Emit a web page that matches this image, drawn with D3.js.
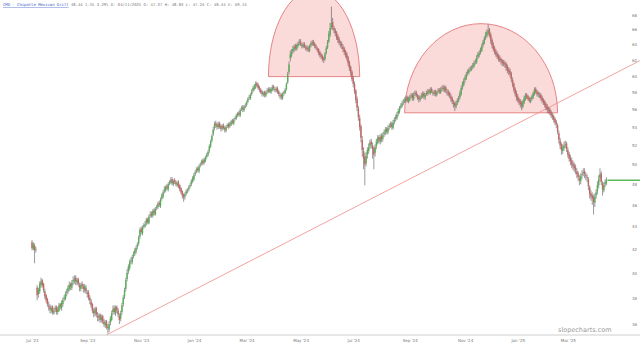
<!DOCTYPE html>
<html>
<head>
<meta charset="utf-8">
<script src="https://cdn.jsdelivr.net/npm/d3@7"></script>
<style>
  body { margin: 0; background: #fff; }
  svg { display: block; }
</style>
</head>
<body>
<svg></svg>
<script>
// daily candles, one per trading day (index 0 = first bar on the chart)
const open = [
  42.6, 42.0, 42.3, 42.0,
  38.8, 38.3, 38.5, 39.0, 39.4, 39.1, 38.5, 38.2, 37.9, 37.4,
  37.3, 37.0, 37.3, 36.8, 37.1, 37.3, 36.9, 37.0, 37.5, 37.2,
  37.5, 37.9, 37.9, 38.4, 38.5, 38.7, 39.1, 38.8, 39.3, 39.3,
  39.6, 39.2, 39.5, 39.0, 38.7, 39.1, 38.9, 38.6, 38.8, 38.4,
  38.4, 38.0, 37.7, 37.5, 37.0, 36.8, 37.2, 36.6, 36.5, 36.7,
  36.3, 36.6, 36.2, 35.9, 36.2, 35.8, 35.6, 36.1, 36.3, 36.9,
  37.2, 36.8, 37.3, 37.0, 36.6, 36.4, 36.9, 37.5, 38.1, 38.7,
  39.5, 40.1, 40.4, 41.0, 40.9, 41.4, 41.6, 41.8, 42.2, 42.5,
  43.1, 43.8, 43.4, 44.0, 44.0, 44.3, 44.7, 44.3, 45.0, 45.2,
  45.0, 45.5, 45.1, 45.7, 45.8, 46.2, 45.9, 46.6, 46.8, 47.3,
  47.4, 47.8, 47.5, 48.1, 48.2, 48.5, 48.0, 48.4, 48.2, 47.9,
  48.2, 47.9, 47.6, 47.3, 47.0, 46.8, 47.1, 47.4, 47.5, 47.8,
  48.0, 48.3, 48.5, 49.0, 49.3, 49.6, 49.3, 49.9, 50.1, 50.4,
  50.2, 50.4, 50.8, 51.0, 51.4, 51.9, 52.5, 53.2, 53.9, 54.4,
  54.3, 54.0, 54.4, 54.1, 53.8, 54.2, 53.9, 53.6, 54.1, 54.3,
  54.1, 54.3, 54.7, 54.4, 54.9, 55.0, 55.3, 55.6, 55.3, 56.0,
  56.2, 55.9, 56.3, 56.5, 56.9, 57.3, 57.3, 57.8, 58.2, 58.4,
  58.6, 59.1, 58.9, 58.6, 58.3, 58.1, 57.7, 58.0, 57.6, 58.1,
  58.1, 58.4, 58.0, 58.3, 58.7, 58.4, 58.2, 58.5, 58.1, 57.7,
  57.7, 57.3, 57.9, 57.9, 58.4, 59.2, 60.5, 62.2, 62.6, 63.1,
  63.3, 63.8, 63.4, 63.8, 64.2, 64.4, 63.9, 63.7, 64.1, 63.6,
  63.6, 63.5, 63.2, 63.9, 64.0, 64.4, 64.1, 63.8, 63.5, 63.4,
  63.0, 62.7, 62.5, 62.2, 62.1, 62.9, 63.6, 64.4, 65.3, 66.3,
  67.0, 66.2, 65.9, 65.6, 65.1, 64.7, 64.1, 64.1, 63.7, 63.5,
  63.1, 62.8, 62.3, 61.7, 61.1, 60.5, 59.7, 59.0, 58.2, 57.2,
  56.1, 55.0, 54.1, 52.6, 51.4, 50.8, 50.1, 51.0, 51.4, 51.9,
  52.4, 52.0, 51.7, 51.2, 51.9, 52.3, 52.9, 52.4, 53.0, 52.7,
  53.2, 53.4, 53.8, 53.4, 54.0, 54.1, 54.4, 53.9, 54.6, 54.9,
  55.0, 55.5, 55.7, 56.2, 56.4, 56.8, 56.9, 57.0, 57.4, 56.9,
  57.1, 57.5, 57.7, 57.2, 57.8, 58.0, 57.5, 57.5, 57.1, 57.4,
  57.5, 57.9, 57.4, 57.8, 57.8, 58.2, 57.9, 58.4, 58.0, 57.8,
  58.1, 57.7, 58.1, 58.3, 58.0, 58.4, 58.6, 58.3, 58.6, 58.1,
  58.0, 57.9, 57.5, 57.3, 56.8, 56.7, 56.3, 56.8, 57.0, 57.4,
  57.8, 58.6, 58.9, 59.5, 59.7, 60.3, 60.4, 60.8, 60.8, 61.1,
  61.2, 61.7, 61.7, 62.4, 62.6, 63.0, 63.2, 63.9, 64.2, 64.9,
  65.2, 65.5, 66.0, 65.3, 64.6, 64.0, 63.5, 63.1, 62.8, 62.5,
  62.3, 62.1, 61.9, 61.7, 61.6, 61.5, 61.1, 60.8, 60.6, 60.3,
  59.5, 59.0, 58.4, 57.9, 57.5, 57.2, 56.9, 56.7, 56.3, 56.8,
  57.2, 57.7, 57.5, 57.3, 56.9, 57.2, 57.4, 57.8, 58.4, 58.1,
  57.9, 57.6, 57.7, 57.4, 57.1, 56.9, 56.6, 56.3, 56.1, 56.0,
  55.7, 55.4, 55.2, 54.9, 54.6, 54.2, 53.3, 52.5, 52.1, 51.4,
  51.7, 52.1, 52.2, 51.5, 51.1, 50.7, 50.4, 50.1, 49.9, 49.7,
  49.3, 49.1, 48.6, 48.3, 48.9, 49.1, 49.3, 48.9, 48.7, 48.5,
  47.7, 47.1, 46.9, 46.7, 46.2, 46.9, 47.3, 47.9, 48.6, 49.1,
  48.1, 47.4, 48.0, 48.1
];
const high = [
  42.8, 42.6, 42.5, 42.2,
  39.0, 38.8, 39.3, 39.6, 39.5, 39.2, 38.7, 38.3, 38.0, 37.7,
  37.5, 37.4, 37.4, 37.2, 37.4, 37.4, 37.3, 37.6, 37.6, 37.8,
  38.0, 38.2, 38.5, 38.7, 39.0, 39.3, 39.2, 39.4, 39.7, 39.8,
  39.8, 39.6, 39.6, 39.2, 39.2, 39.3, 39.1, 39.1, 39.0, 38.6,
  38.6, 38.2, 37.9, 37.6, 37.2, 37.3, 37.3, 36.9, 36.8, 36.8,
  36.7, 36.7, 36.4, 36.3, 36.3, 36.0, 36.2, 36.6, 37.0, 37.4,
  37.4, 37.4, 37.4, 37.2, 36.8, 37.0, 37.6, 38.2, 38.8, 39.6,
  40.3, 40.7, 41.1, 41.3, 41.5, 41.8, 42.1, 42.3, 42.6, 43.2,
  43.9, 44.0, 44.1, 44.3, 44.5, 44.8, 44.8, 45.1, 45.4, 45.4,
  45.6, 45.7, 45.8, 46.0, 46.3, 46.4, 46.7, 47.1, 47.4, 47.8,
  47.9, 48.0, 48.2, 48.4, 48.7, 48.7, 48.5, 48.6, 48.4, 48.3,
  48.4, 48.0, 47.7, 47.4, 47.1, 47.2, 47.5, 47.6, 47.9, 48.1,
  48.5, 48.8, 49.1, 49.4, 49.7, 49.8, 50.0, 50.2, 50.5, 50.6,
  50.7, 50.9, 51.2, 51.5, 52.1, 52.6, 53.2, 54.0, 54.6, 54.7,
  54.5, 54.6, 54.6, 54.3, 54.3, 54.4, 54.1, 54.2, 54.4, 54.5,
  54.6, 54.8, 54.9, 55.0, 55.2, 55.5, 55.7, 55.8, 56.1, 56.4,
  56.5, 56.5, 56.7, 57.0, 57.4, 57.7, 57.9, 58.4, 58.8, 59.0,
  59.3, 59.3, 59.1, 58.8, 58.5, 58.3, 58.1, 58.2, 58.2, 58.5,
  58.6, 58.6, 58.6, 58.9, 58.9, 58.6, 58.7, 58.7, 58.3, 58.0,
  57.9, 58.0, 58.2, 58.5, 59.2, 60.5, 61.8, 63.2, 63.4, 63.8,
  64.0, 64.1, 64.1, 64.4, 64.7, 64.7, 64.2, 64.3, 64.3, 63.9,
  63.9, 63.8, 64.0, 64.4, 64.6, 64.6, 64.3, 64.0, 63.7, 63.5,
  63.2, 62.9, 62.7, 62.4, 63.0, 63.8, 64.6, 65.8, 66.9, 69.2,
  67.6, 66.5, 66.2, 65.8, 65.4, 65.0, 64.5, 64.4, 64.0, 63.7,
  63.3, 63.0, 62.5, 61.9, 61.3, 60.7, 60.0, 59.3, 58.4, 57.5,
  56.4, 55.4, 54.3, 53.0, 51.8, 51.2, 51.3, 51.8, 52.2, 52.6,
  52.7, 52.3, 51.9, 52.1, 52.7, 53.1, 53.1, 53.2, 53.3, 53.4,
  53.7, 54.0, 54.0, 54.2, 54.4, 54.6, 54.6, 54.8, 55.1, 55.4,
  55.7, 56.1, 56.4, 56.7, 57.0, 57.2, 57.4, 57.6, 57.6, 57.5,
  57.7, 57.9, 57.9, 58.0, 58.2, 58.2, 57.8, 57.7, 57.6, 57.9,
  58.1, 58.1, 57.9, 58.2, 58.4, 58.4, 58.6, 58.6, 58.2, 58.3,
  58.3, 58.2, 58.5, 58.5, 58.6, 58.8, 58.9, 58.8, 58.8, 58.4,
  58.3, 58.1, 57.8, 57.5, 57.1, 56.9, 57.0, 57.3, 57.6, 58.2,
  58.8, 59.3, 59.7, 60.1, 60.5, 60.8, 61.0, 61.2, 61.3, 61.6,
  61.9, 62.1, 62.6, 63.0, 63.2, 63.6, 64.1, 64.6, 65.1, 65.7,
  66.0, 66.7, 66.2, 65.6, 64.9, 64.3, 63.8, 63.4, 63.1, 62.8,
  62.6, 62.3, 62.1, 62.0, 61.9, 61.7, 61.4, 61.1, 60.9, 60.5,
  59.8, 59.2, 58.6, 58.2, 57.8, 57.4, 57.2, 57.0, 57.1, 57.6,
  57.9, 57.9, 57.7, 57.5, 57.4, 57.7, 58.1, 58.6, 58.6, 58.3,
  58.1, 58.0, 57.9, 57.6, 57.3, 57.1, 56.8, 56.6, 56.3, 56.2,
  55.9, 55.6, 55.4, 55.1, 54.8, 54.4, 53.6, 52.8, 52.3, 52.1,
  52.4, 52.5, 52.4, 51.8, 51.3, 51.0, 50.7, 50.4, 50.2, 50.0,
  49.6, 49.3, 48.9, 49.1, 49.4, 49.6, 49.6, 49.2, 49.0, 48.7,
  47.9, 47.4, 47.2, 47.0, 47.1, 47.5, 48.3, 48.9, 49.6, 49.3,
  48.3, 48.2, 48.5, 48.7
];
const low = [
  41.9, 41.9, 40.8, 41.7,
  37.8, 38.0, 38.3, 38.8, 38.8, 38.4, 37.9, 37.6, 37.3, 37.0,
  36.8, 36.8, 36.7, 36.7, 36.9, 36.7, 36.7, 36.9, 37.1, 37.0,
  37.3, 37.7, 37.8, 38.1, 38.3, 38.5, 38.6, 38.6, 39.0, 39.1,
  39.0, 39.0, 38.9, 38.5, 38.5, 38.7, 38.4, 38.4, 38.3, 38.0,
  37.8, 37.5, 37.2, 36.8, 36.5, 36.6, 36.5, 36.2, 36.2, 36.1,
  36.1, 36.0, 35.8, 35.7, 35.6, 35.3, 35.4, 35.9, 36.2, 36.7,
  36.7, 36.6, 36.8, 36.5, 36.0, 36.2, 36.7, 37.3, 37.9, 38.5,
  39.3, 39.9, 40.2, 40.7, 40.7, 41.2, 41.4, 41.6, 42.0, 42.3,
  42.9, 43.3, 43.2, 43.8, 43.9, 44.1, 44.2, 44.2, 44.8, 44.8,
  44.8, 45.0, 45.0, 45.5, 45.6, 45.8, 45.7, 46.4, 46.6, 47.1,
  47.2, 47.4, 47.3, 47.9, 48.0, 47.9, 47.8, 48.0, 47.8, 47.7,
  47.6, 47.3, 47.0, 46.6, 46.3, 46.5, 46.9, 47.1, 47.3, 47.6,
  47.8, 48.1, 48.3, 48.8, 49.1, 49.2, 49.1, 49.7, 49.9, 49.9,
  50.0, 50.2, 50.6, 50.8, 51.2, 51.7, 52.3, 53.0, 53.6, 53.9,
  53.7, 53.8, 53.8, 53.5, 53.6, 53.7, 53.4, 53.4, 53.9, 53.8,
  53.9, 54.1, 54.3, 54.2, 54.7, 54.8, 55.1, 55.2, 55.1, 55.8,
  55.7, 55.7, 56.1, 56.3, 56.7, 57.1, 57.1, 57.6, 58.0, 58.2,
  58.4, 58.6, 58.3, 58.0, 57.8, 57.5, 57.5, 57.4, 57.4, 57.8,
  57.9, 57.9, 57.8, 58.1, 58.2, 58.0, 58.0, 57.8, 57.5, 57.2,
  57.1, 57.1, 57.6, 57.8, 58.2, 59.0, 60.2, 61.8, 62.3, 62.8,
  63.0, 63.2, 63.2, 63.6, 63.9, 63.8, 63.5, 63.5, 63.5, 63.2,
  63.1, 63.0, 63.0, 63.6, 63.8, 63.8, 63.5, 63.3, 63.0, 62.6,
  62.3, 62.1, 61.8, 61.6, 61.9, 62.7, 63.4, 64.2, 65.0, 66.0,
  65.9, 65.5, 65.1, 64.6, 64.2, 63.9, 63.6, 63.4, 63.0, 62.6,
  62.3, 61.9, 61.2, 60.6, 60.0, 59.3, 58.6, 57.8, 56.7, 55.8,
  54.7, 53.6, 52.3, 50.8, 49.5, 47.9, 49.8, 50.6, 51.1, 51.6,
  51.7, 50.6, 49.5, 50.8, 51.6, 52.1, 52.2, 52.1, 52.3, 52.4,
  52.9, 53.1, 53.2, 53.2, 53.7, 53.9, 53.7, 53.7, 54.3, 54.6,
  54.8, 55.2, 55.5, 56.0, 56.2, 56.5, 56.7, 56.8, 56.8, 56.7,
  56.9, 57.3, 57.0, 57.0, 57.6, 57.4, 57.1, 56.8, 56.9, 57.2,
  57.3, 57.2, 57.1, 57.6, 57.6, 57.8, 57.7, 57.9, 57.6, 57.6,
  57.5, 57.5, 57.9, 57.8, 57.8, 58.1, 58.1, 58.0, 57.9, 57.6,
  57.5, 57.3, 56.9, 56.6, 56.2, 55.8, 56.1, 56.5, 56.8, 57.2,
  57.6, 58.3, 58.7, 59.2, 59.5, 60.0, 60.2, 60.5, 60.6, 60.8,
  61.0, 61.4, 61.5, 62.1, 62.3, 62.7, 63.0, 63.6, 64.0, 64.6,
  64.9, 65.2, 64.9, 64.1, 63.5, 63.1, 62.7, 62.4, 62.1, 61.8,
  61.7, 61.4, 61.2, 61.2, 61.0, 60.6, 60.3, 60.1, 59.8, 59.2,
  58.6, 58.0, 57.5, 57.0, 56.8, 56.5, 56.2, 55.9, 56.1, 56.6,
  57.0, 57.2, 57.0, 56.8, 56.7, 57.0, 57.2, 57.6, 57.8, 57.5,
  57.4, 57.3, 57.0, 56.7, 56.5, 56.2, 55.9, 55.6, 55.5, 55.3,
  55.0, 54.8, 54.5, 54.2, 53.9, 53.2, 52.2, 51.6, 51.0, 51.1,
  51.4, 51.7, 51.3, 50.7, 50.3, 49.9, 49.6, 49.4, 49.2, 49.0,
  48.6, 48.3, 47.9, 48.0, 48.5, 48.8, 48.6, 48.4, 48.2, 47.4,
  46.6, 46.4, 46.0, 45.1, 45.8, 46.6, 47.0, 47.6, 48.3, 47.9,
  46.9, 47.2, 47.7, 47.9
];
const close = [
  42.1, 42.4, 41.9, 42.0,
  38.2, 38.6, 39.1, 39.3, 39.0, 38.6, 38.1, 37.8, 37.5, 37.3,
  37.1, 37.2, 36.9, 37.0, 37.2, 36.9, 37.1, 37.4, 37.3, 37.6,
  37.8, 38.0, 38.3, 38.5, 38.8, 39.0, 38.9, 39.2, 39.4, 39.5,
  39.3, 39.4, 39.1, 38.8, 39.0, 38.9, 38.7, 38.9, 38.5, 38.3,
  38.0, 37.8, 37.4, 37.0, 36.8, 37.1, 36.7, 36.5, 36.6, 36.3,
  36.5, 36.2, 36.0, 36.1, 35.8, 35.7, 36.0, 36.4, 36.8, 37.1,
  36.9, 37.2, 37.0, 36.7, 36.3, 36.8, 37.4, 38.0, 38.6, 39.4,
  40.0, 40.5, 40.9, 41.0, 41.3, 41.6, 41.9, 42.1, 42.4, 43.0,
  43.7, 43.5, 43.9, 44.1, 44.2, 44.6, 44.4, 44.9, 45.1, 45.0,
  45.4, 45.2, 45.6, 45.8, 46.1, 46.0, 46.5, 46.9, 47.2, 47.5,
  47.7, 47.6, 48.0, 48.2, 48.4, 48.1, 48.3, 48.2, 48.0, 48.1,
  47.8, 47.5, 47.2, 46.9, 46.7, 47.0, 47.3, 47.4, 47.7, 47.9,
  48.3, 48.6, 48.9, 49.2, 49.5, 49.4, 49.8, 50.0, 50.3, 50.1,
  50.5, 50.7, 51.0, 51.3, 51.9, 52.4, 53.0, 53.7, 54.3, 54.2,
  54.0, 54.3, 54.0, 53.8, 54.1, 53.9, 53.7, 54.0, 54.2, 54.0,
  54.4, 54.6, 54.5, 54.8, 55.0, 55.3, 55.5, 55.4, 55.9, 56.1,
  56.0, 56.3, 56.4, 56.8, 57.2, 57.4, 57.7, 58.1, 58.5, 58.7,
  59.0, 58.8, 58.5, 58.3, 58.0, 57.8, 57.9, 57.7, 58.0, 58.2,
  58.3, 58.1, 58.4, 58.6, 58.5, 58.3, 58.4, 58.0, 57.8, 57.6,
  57.4, 57.8, 58.0, 58.3, 59.0, 60.2, 61.4, 62.7, 63.0, 63.4,
  63.7, 63.5, 63.9, 64.1, 64.3, 64.0, 63.8, 64.0, 63.7, 63.5,
  63.4, 63.3, 63.8, 64.1, 64.3, 64.0, 63.8, 63.6, 63.3, 62.9,
  62.6, 62.4, 62.1, 62.0, 62.8, 63.5, 64.3, 65.4, 66.2, 66.9,
  66.3, 65.9, 65.5, 65.0, 64.6, 64.2, 64.0, 63.8, 63.4, 63.0,
  62.7, 62.2, 61.6, 61.0, 60.4, 59.6, 59.0, 58.1, 57.1, 56.2,
  55.1, 54.0, 52.8, 51.5, 50.6, 50.0, 50.9, 51.5, 51.8, 52.3,
  52.1, 51.6, 51.0, 51.8, 52.4, 52.8, 52.5, 52.9, 52.6, 53.1,
  53.4, 53.7, 53.5, 53.9, 54.1, 54.3, 54.0, 54.5, 54.8, 55.1,
  55.4, 55.8, 56.1, 56.4, 56.7, 56.9, 57.1, 57.3, 57.0, 57.2,
  57.4, 57.6, 57.3, 57.7, 57.9, 57.6, 57.4, 57.2, 57.3, 57.6,
  57.8, 57.5, 57.7, 57.9, 58.1, 58.0, 58.3, 58.1, 57.9, 58.0,
  57.8, 58.0, 58.2, 58.1, 58.3, 58.5, 58.4, 58.5, 58.2, 58.0,
  57.8, 57.6, 57.2, 56.9, 56.6, 56.4, 56.7, 57.0, 57.3, 57.9,
  58.5, 59.0, 59.4, 59.8, 60.2, 60.5, 60.7, 60.9, 61.0, 61.3,
  61.6, 61.8, 62.3, 62.7, 62.9, 63.3, 63.8, 64.3, 64.8, 65.3,
  65.6, 65.9, 65.2, 64.5, 63.9, 63.4, 63.0, 62.7, 62.4, 62.2,
  62.0, 61.8, 61.6, 61.5, 61.4, 61.0, 60.7, 60.5, 60.2, 59.6,
  58.9, 58.3, 57.8, 57.4, 57.1, 56.8, 56.6, 56.4, 56.9, 57.3,
  57.6, 57.4, 57.2, 57.0, 57.1, 57.5, 57.9, 58.3, 58.0, 57.8,
  57.7, 57.6, 57.3, 57.0, 56.8, 56.5, 56.2, 56.0, 55.9, 55.6,
  55.3, 55.1, 54.8, 54.5, 54.3, 53.5, 52.6, 52.0, 51.5, 51.8,
  52.0, 52.1, 51.6, 51.0, 50.6, 50.3, 50.0, 49.8, 49.6, 49.4,
  49.0, 48.7, 48.4, 48.8, 49.0, 49.2, 49.0, 48.8, 48.6, 47.8,
  47.0, 46.8, 46.6, 46.3, 46.8, 47.2, 47.9, 48.5, 49.0, 48.2,
  47.5, 47.9, 48.2, 48.4
];

// axis labels
const priceTicks = [36, 38, 40, 42, 44, 46, 48, 50, 52, 54, 56, 58, 60, 62, 64, 66, 68];
const monthIdx = [0, 43, 85, 126, 167, 209, 250, 294, 337, 378, 417];
const monthLabels = ["Jul '23", "Sep '23", "Nov '23", "Jan '24", "Mar '24", "May '24",
                     "Jul '24", "Sep '24", "Nov '24", "Jan '25", "Mar '25"];

// drawn annotations: two rounded tops and a rising trendline
const domeFrom = [184, 290];
const domeTo = [255, 409];
const domeBase = [59.9, 55.6];
const domeTop = [71.6, 66.8];
const trendIdx = [58, 473];
const trendPrice = [35.2, 61.9];

const header = "CMG - Chipotle Mexican Grill";
const headerInfo = "48.44 1.55 3.29% D: 04/11/2025 O: 47.37 H: 48.83 L: 47.24 C: 48.44 V: 69.14";

const W = 640, H = 346;
const n = close.length;

const svg = d3.select("svg").attr("width", W).attr("height", H);

const x = d3.scaleLinear().domain([0, n - 1]).range([32, 606.4]);
const y = d3.scaleLog().domain([36, 68]).range([324, 15]);

// Rounded tops
const domes = domeFrom.map((d, k) => ({ a: d, b: domeTo[k], base: domeBase[k], top: domeTop[k] }));
svg.append("g")
  .selectAll("path")
  .data(domes)
  .enter()
  .append("path")
  .attr("d", d => {
    let x1 = x(d.a), x2 = x(d.b), yb = y(d.base);
    let rx = (x2 - x1) / 2, ry = yb - y(d.top);
    return `M${x1},${yb} A${rx},${ry} 0 0 1 ${x2},${yb} Z`;
  })
  .attr("fill", "#f5a3a3")
  .attr("fill-opacity", 0.4)
  .attr("stroke", "#e06a6a")
  .attr("stroke-width", 0.8);

// Trendline
svg.append("line")
  .attr("x1", x(trendIdx[0])).attr("y1", y(trendPrice[0]))
  .attr("x2", x(trendIdx[1])).attr("y2", y(trendPrice[1]))
  .attr("stroke", "#f08a8a")
  .attr("stroke-width", 0.8);

// Candles
const idx = d3.range(n);
const g = svg.append("g");

g.selectAll(".wick")
  .data(idx)
  .enter()
  .append("line")
  .attr("class", "wick")
  .attr("x1", i => x(i)).attr("x2", i => x(i))
  .attr("y1", i => y(high[i])).attr("y2", i => y(low[i]))
  .attr("stroke", "#555")
  .attr("stroke-width", 0.6);

g.selectAll(".body")
  .data(idx)
  .enter()
  .append("rect")
  .attr("class", "body")
  .attr("x", i => x(i) - 0.7)
  .attr("width", 1.4)
  .attr("y", i => y(Math.max(open[i], close[i])))
  .attr("height", i => Math.max(0.8, Math.abs(y(open[i]) - y(close[i]))))
  .attr("fill", i => close[i] >= open[i] ? "#54b054" : "#c96464");

// Last price marker
svg.append("line")
  .attr("x1", x(n - 1) + 1).attr("x2", W)
  .attr("y1", y(close[n - 1])).attr("y2", y(close[n - 1]))
  .attr("stroke", "#5cb85c")
  .attr("stroke-width", 1.4);

// Axes
const xAxis = svg.append("g")
  .attr("transform", "translate(0,335)")
  .call(d3.axisBottom(x)
    .tickValues(monthIdx)
    .tickFormat((d, k) => monthLabels[k])
    .tickSize(0)
    .tickPadding(4));
xAxis.select(".domain").attr("stroke", "#cfcfcf").attr("d", `M0,0H${W}`);
xAxis.selectAll("text").attr("fill", "#777").attr("font-size", 4).attr("font-family", "DejaVu Sans");

const yAxis = svg.append("g")
  .attr("transform", "translate(630,0)")
  .call(d3.axisRight(y)
    .tickValues(priceTicks)
    .tickFormat(d3.format("d"))
    .tickSize(0)
    .tickPadding(2));
yAxis.select(".domain").remove();
yAxis.selectAll("text").attr("fill", "#777").attr("font-size", 4).attr("font-family", "DejaVu Sans");

// Header
const head = svg.append("text")
  .attr("x", 3).attr("y", 6)
  .attr("font-family", "DejaVu Sans Mono")
  .attr("font-size", 3.9);
head.append("tspan").text(header).attr("fill", "#3a5bc7").attr("text-decoration", "underline");
head.append("tspan").text(" " + headerInfo).attr("fill", "#777");

// Watermark
svg.append("text")
  .attr("x", 558).attr("y", 332)
  .attr("font-family", "DejaVu Sans")
  .attr("font-size", 6.5)
  .attr("fill", "#999")
  .text("slopecharts.com");
</script>
</body>
</html>
